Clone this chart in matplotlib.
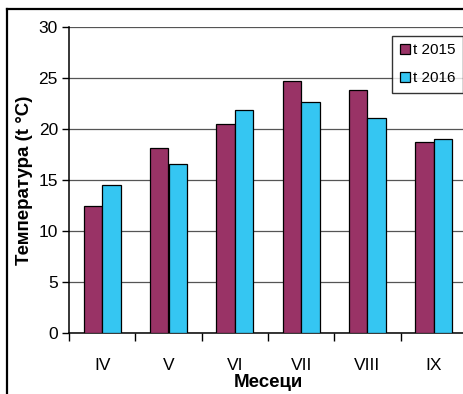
import matplotlib
matplotlib.use("Agg")
import matplotlib.pyplot as plt
from matplotlib.lines import Line2D
import numpy as np

plt.rcParams['font.family'] = ['Liberation Sans', 'DejaVu Sans']

months = ["IV", "V", "VI", "VII", "VIII", "IX"]
t2015 = [12.4, 18.1, 20.5, 24.7, 23.8, 18.7]
t2016 = [14.5, 16.6, 21.9, 22.6, 21.1, 19.0]
series_labels = ["t 2015", "t 2016"]
yticks = [0, 5, 10, 15, 20, 25, 30]

W, H = 463, 394
fig = plt.figure(figsize=(W / 100, H / 100), dpi=100)
fig.patch.set_facecolor("white")

# plot area runs slightly past the right edge
left, right, top, bottom = 69, 467, 27, 332.7
ax = fig.add_axes([left / W, 1 - bottom / H, (right - left) / W, (bottom - top) / H])

x = np.arange(len(months))
bw = 0.28
ax.bar(x - bw / 2, t2015, bw, color="#993366", edgecolor="black", linewidth=0.9,
       label=series_labels[0], zorder=3)
ax.bar(x + bw / 2, t2016, bw, color="#35C6F2", edgecolor="black", linewidth=0.9,
       label=series_labels[1], zorder=3)

ax.set_xlim(-0.5, len(months) - 0.5)
ax.set_ylim(0, 30)
ax.set_yticks(yticks)
ax.set_yticklabels([str(v) for v in yticks], fontsize=12.5)
ax.yaxis.grid(True, color="#555555", linewidth=0.9, zorder=0)
ax.set_axisbelow(True)

# category labels centred, tick marks between categories
ax.set_xticks(x)
ax.set_xticklabels(months, fontsize=12.5)
ax.tick_params(axis="x", length=0, pad=18)
ax.set_xticks(np.arange(-0.5, len(months)), minor=True)
ax.tick_params(axis="x", which="minor", length=6, width=1, direction="out")
ax.tick_params(axis="y", length=5, width=1, direction="out", pad=3)

for s in ("top", "right"):
    ax.spines[s].set_visible(False)
for s in ("left", "bottom"):
    ax.spines[s].set_linewidth(1.1)

ax.set_xlabel("Месеци", fontsize=13.5, fontweight="bold", labelpad=1)
ax.set_ylabel("Температура (t °C)", fontsize=13.5, fontweight="bold", labelpad=4)

leg = ax.legend(loc="upper left", bbox_to_anchor=((392 - left) / (right - left), 1 - (35.7 - top) / (bottom - top)),
                fontsize=11, frameon=True, fancybox=False, edgecolor="black",
                handlelength=0.65, handleheight=0.65, handletextpad=0.2,
                borderpad=0.5, labelspacing=0.9, borderaxespad=0)
leg.get_frame().set_linewidth(1)
leg.set_zorder(5)

# outer chart border (left and top edges visible)
fig.add_artist(Line2D([6.5 / W, 6.5 / W], [0, 1 - 9 / H], color="black", linewidth=1.6))
fig.add_artist(Line2D([6.5 / W, 1], [1 - 9 / H, 1 - 9 / H], color="black", linewidth=1.6))

fig.savefig("out.png", dpi=100)
